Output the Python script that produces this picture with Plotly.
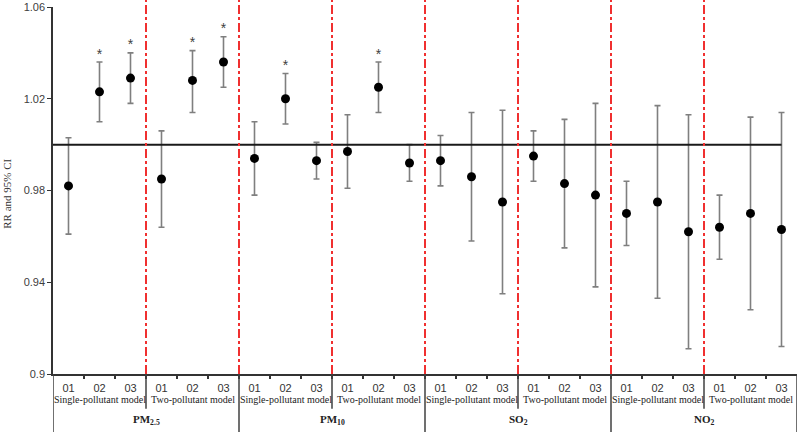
import plotly.graph_objects as go

# ---------------- data ----------------
pollutants = ["PM<sub>2.5</sub>", "PM<sub>10</sub>", "SO<sub>2</sub>", "NO<sub>2</sub>"]
models = ["Single-pollutant model", "Two-pollutant model"]
lags = ["01", "02", "03"]

rr = [0.982, 1.023, 1.029, 0.985, 1.028, 1.036,
      0.994, 1.020, 0.993, 0.997, 1.025, 0.992,
      0.993, 0.986, 0.975, 0.995, 0.983, 0.978,
      0.970, 0.975, 0.962, 0.964, 0.970, 0.963]
ci_upper = [1.003, 1.036, 1.040, 1.006, 1.041, 1.047,
            1.010, 1.031, 1.001, 1.013, 1.036, 1.000,
            1.004, 1.014, 1.015, 1.006, 1.011, 1.018,
            0.984, 1.017, 1.013, 0.978, 1.012, 1.014]
ci_lower = [0.961, 1.010, 1.018, 0.964, 1.014, 1.025,
            0.978, 1.009, 0.985, 0.981, 1.014, 0.984,
            0.982, 0.958, 0.935, 0.984, 0.955, 0.938,
            0.956, 0.933, 0.911, 0.950, 0.928, 0.912]
significant = [False, True, True, False, True, True,
               False, True, False, False, True, False,
               False, False, False, False, False, False,
               False, False, False, False, False, False]

y_ticks = [0.9, 0.94, 0.98, 1.02, 1.06]
y_ticklabels = ["0.9", "0.94", "0.98", "1.02", "1.06"]
reference_rr = 1.0

# ---------------- derived ----------------
n = len(rr)
x = list(range(n))
tick_text = [lags[i % len(lags)] for i in range(n)]
err_plus = [u - v for u, v in zip(ci_upper, rr)]
err_minus = [v - l for v, l in zip(rr, ci_lower)]

fig = go.Figure()

fig.add_trace(go.Scatter(
    x=x, y=rr, mode="markers",
    marker=dict(color="black", size=9),
    error_y=dict(type="data", symmetric=False, array=err_plus, arrayminus=err_minus,
                 color="#7f7f7f", thickness=1.6, width=3),
    showlegend=False, hoverinfo="skip",
))

sig_x = [xi for xi, s in zip(x, significant) if s]
sig_y = [u for u, s in zip(ci_upper, significant) if s]
fig.add_trace(go.Scatter(
    x=sig_x, y=sig_y, mode="text", text=["*"] * len(sig_x),
    textposition="top center",
    textfont=dict(family="Liberation Sans", size=14, color="#404040"),
    showlegend=False, hoverinfo="skip",
))

shapes = []
# reference line at RR = 1
shapes.append(dict(type="line", xref="x", yref="y", x0=-0.5, x1=n - 1,
                   y0=reference_rr, y1=reference_rr,
                   line=dict(color="#1a1a1a", width=2)))

group_size = len(lags)
n_groups = n // group_size
# red dash-dot group boundaries
for g in range(1, n_groups):
    b = g * group_size - 0.5
    shapes.append(dict(type="line", xref="x", yref="paper", x0=b, x1=b,
                       y0=0, y1=1.02, layer="above",
                       line=dict(color="#f03030", width=2, dash="dashdot")))
# bottom separators
per_poll = group_size * len(models)
for g in range(0, n_groups + 1):
    b = g * group_size - 0.5
    long = (g * group_size) % per_poll == 0
    shapes.append(dict(type="line", xref="x", yref="paper", x0=b, x1=b,
                       y0=0, y1=-0.158 if long else -0.095,
                       line=dict(color="#404040", width=1.5)))

annotations = []
for gi in range(n_groups):
    annotations.append(dict(
        x=gi * group_size + (group_size - 1) / 2, y=-0.07, xref="x", yref="paper",
        text=models[gi % len(models)], showarrow=False, yanchor="middle",
        font=dict(family="Liberation Serif", size=10, color="#222222")))
for pi, p in enumerate(pollutants):
    annotations.append(dict(
        x=pi * per_poll + (per_poll - 1) / 2, y=-0.125, xref="x", yref="paper",
        text="<b>" + p + "</b>", showarrow=False, yanchor="middle",
        font=dict(family="Liberation Serif", size=11, color="#222222")))
annotations.append(dict(
    x=-0.061, y=0.49, xref="paper", yref="paper", text="RR and 95% CI",
    textangle=-90, showarrow=False, xanchor="center", yanchor="middle",
    font=dict(family="Liberation Serif", size=11, color="#333333")))

fig.update_layout(
    width=800, height=435,
    margin=dict(l=53, r=3, t=7, b=61, autoexpand=False),
    plot_bgcolor="white", paper_bgcolor="white",
    shapes=shapes, annotations=annotations,
    xaxis=dict(range=[-0.5, n - 0.5], tickmode="array", tickvals=x, ticktext=tick_text,
               ticks="", showgrid=False, zeroline=False, automargin=False,
               ticklabelstandoff=3,
               showline=True, linecolor="#333333", linewidth=1.5,
               tickfont=dict(family="Liberation Sans", size=11, color="#333333"),
               minor=dict(tickmode="array", tickvals=[i + 0.5 for i in range(n - 1)],
                          ticks="outside", ticklen=3, tickcolor="#333333", tickwidth=1.5),
               ),
    yaxis=dict(range=[0.9, 1.06], tickmode="array", tickvals=y_ticks, ticktext=y_ticklabels,
               ticks="outside", ticklen=4, tickcolor="#333333", automargin=False,
               showgrid=False, zeroline=False,
               showline=True, linecolor="#333333", linewidth=1.5,
               tickfont=dict(family="Liberation Sans", size=11, color="#404040")),
)

fig.write_html("out.html", config={"displayModeBar": False},
               post_script="document.body.style.margin='0';")
